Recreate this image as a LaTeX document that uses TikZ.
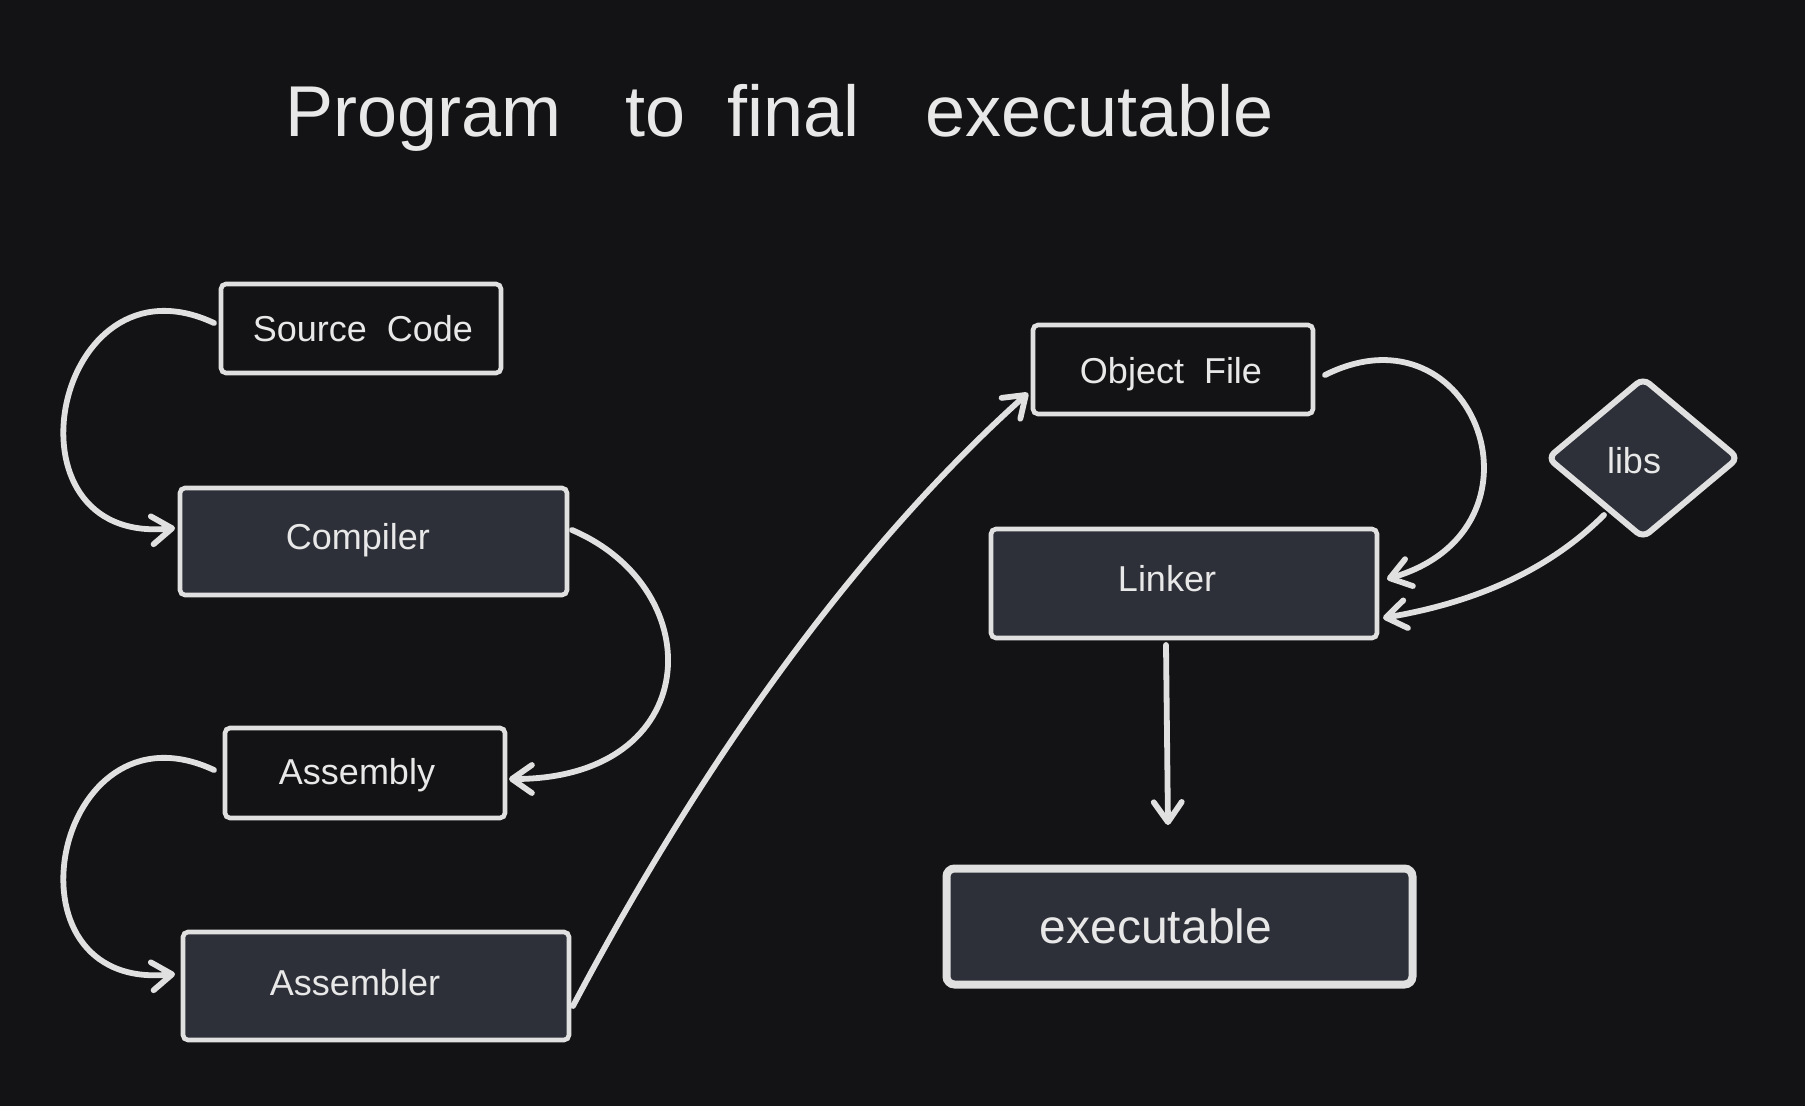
\documentclass[tikz,border=0pt]{standalone}
\usepackage{fontspec}
\setmainfont{Liberation Sans}
\usetikzlibrary{arrows.meta,shapes.geometric,calc}
\definecolor{bgc}{RGB}{19,19,21}
\definecolor{fillc}{RGB}{45,48,56}
\definecolor{strokec}{RGB}{224,224,224}
\definecolor{textc}{RGB}{232,232,232}
\begin{document}
\begin{tikzpicture}[x=1pt,y=-1pt,
  box/.style={draw=strokec, line width=4.6pt, rounded corners=5pt, inner sep=0pt, outer sep=0pt},
  darkbox/.style={box, fill=fillc},
  lightbox/.style={box, fill=bgc},
  lbl/.style={text=textc, font=\fontsize{36}{40}\selectfont, inner sep=0pt, anchor=base},
  conn/.style={draw=strokec, line width=5.8pt, line cap=round, -{Straight Barb[length=20pt,width=28pt,line cap=round,line join=round]}},
  linkline/.style={draw=strokec, line width=5.8pt, line cap=round}]
\fill[bgc] (0,0) rectangle (1805,1106);
\useasboundingbox (0,0) rectangle (1805,1106);

\node[anchor=base west, text=textc, font=\fontsize{72}{80}\selectfont, inner sep=0pt] (title) at (285,136) {Program\hspace{64pt}to\hspace{42pt}final\hspace{66pt}executable};

% boxes
\node[lightbox, minimum width=280, minimum height=89] (src) at (361,328.5) {};
\node[darkbox, minimum width=387, minimum height=107] (comp) at (373.5,541.5) {};
\node[lightbox, minimum width=280, minimum height=90] (asm) at (365,773) {};
\node[darkbox, minimum width=386, minimum height=108] (asmr) at (376,986) {};
\node[lightbox, minimum width=280, minimum height=89] (obj) at (1173,369.5) {};
\node[darkbox, minimum width=386, minimum height=109] (link) at (1184,583.5) {};
\node[darkbox, line width=8pt, rounded corners=8pt, minimum width=466, minimum height=116] (exec) at (1179.5,926.5) {};
\node[diamond, draw=strokec, fill=fillc, line width=6pt, rounded corners=8pt, inner sep=0pt, outer sep=0pt, minimum width=190, minimum height=159] (libs) at (1643,458) {};

% labels
\node[lbl] (srcT) at (363,341) {Source\hspace{20pt}Code};
\node[lbl] (compT) at (358,549) {Compiler};
\node[lbl] (asmT) at (357,784) {Assembly};
\node[lbl] (asmrT) at (355,995) {Assembler};
\node[lbl] (objT) at (1171,383) {Object\hspace{20pt}File};
\node[lbl] (linkT) at (1167,591) {Linker};
\node[lbl] (libsT) at (1634,473) {libs};
\node[lbl, font=\fontsize{48}{52}\selectfont] (execT) at (1156,943) {executable};

% connectors
\draw[conn] ($(src.west)+(-7,-5.5)$) .. controls +(-160,-75) and +(-180,18) .. ($(comp.west)+(-5,-13.5)$);
\draw[conn] ($(comp.east)+(5,-11.5)$) .. controls +(140,60) and +(195,0) .. ($(asm.east)+(4,6)$);
\draw[conn] ($(asm.west)+(-11,-3)$) .. controls +(-160,-75) and +(-180,18) .. ($(asmr.west)+(-8,-12)$);
\draw[conn] ($(asmr.east)+(4,20)$) .. controls +(117,-221) and +(-186,167) .. ($(obj.west)+(-5,23.5)$);
\draw[conn] ($(obj.east)+(12,5.5)$) .. controls +(150,-75) and +(172,-50) .. ($(link.east)+(10,-4.5)$);
\draw[conn] ($(libs.center)+(-39,57)$) .. controls +(-57,57) and +(89,-15) .. ($(link.east)+(6,34.5)$);
\coordinate (linkend) at (1168,825);
\draw[conn] ($(link.south)+(-18,7)$) -- (linkend);
\end{tikzpicture}
\end{document}
